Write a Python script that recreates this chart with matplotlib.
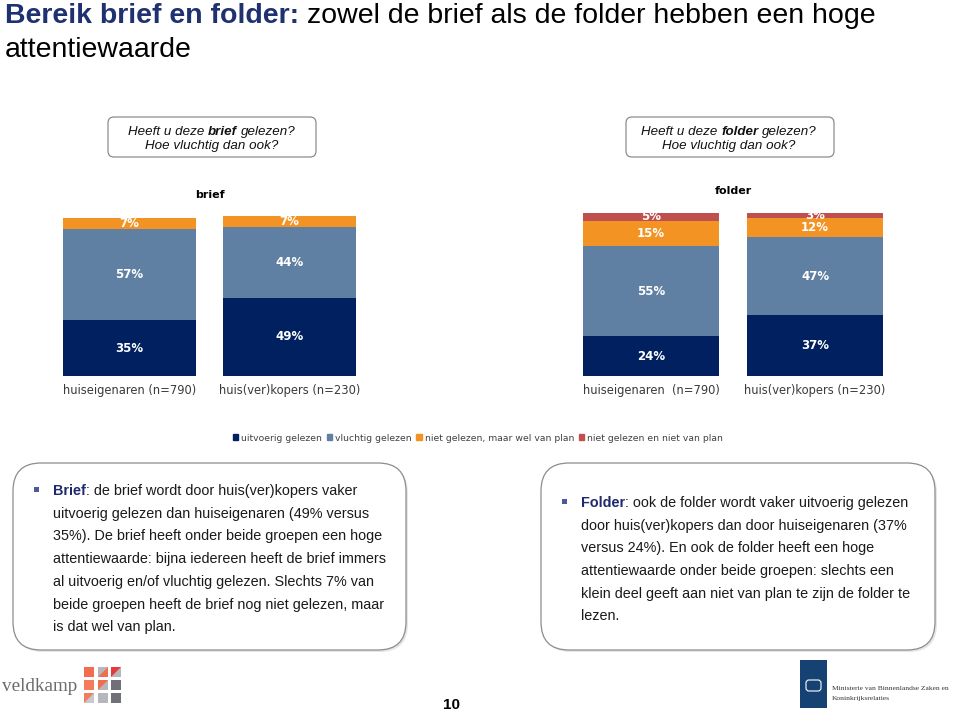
import matplotlib
matplotlib.use("Agg")
import matplotlib.pyplot as plt
from matplotlib.patches import FancyBboxPatch, Rectangle, Polygon, Patch

# data (percentages)
brief_groups = ["huiseigenaren (n=790)", "huis(ver)kopers (n=230)"]
brief_uitvoerig = [35, 49]
brief_vluchtig = [57, 44]
brief_plan = [7, 7]
brief_niet = [0, 0]

folder_groups = ["huiseigenaren  (n=790)", "huis(ver)kopers (n=230)"]
folder_uitvoerig = [24, 37]
folder_vluchtig = [55, 47]
folder_plan = [15, 12]
folder_niet = [5, 3]

categories = ["uitvoerig gelezen", "vluchtig gelezen",
              "niet gelezen, maar wel van plan", "niet gelezen en niet van plan"]
colors = ["#002060", "#5f7fa3", "#f39324", "#c0504d"]

W, H = 960, 714
fig = plt.figure(figsize=(W / 100, H / 100), dpi=100)
fig.patch.set_facecolor("white")

# overlay axes in pixel units (y down) for text boxes and decoration
ov = fig.add_axes([0, 0, 1, 1])
ov.set_xlim(0, W)
ov.set_ylim(H, 0)
ov.axis("off")
renderer = fig.canvas.get_renderer()


def draw_runs(x, y, parts, ha="left", size=10, **common):
    # parts: (text, props); leading space in text means a gap before it
    items = []
    for txt, props in parts:
        t = ov.text(0, y, txt.strip(), fontsize=size, va="baseline", **common, **props)
        w = t.get_window_extent(renderer).width
        items.append((t, w, txt.startswith(" ")))
    space = size * 0.278 * 100 / 72
    total = sum(w for _, w, _ in items) + space * sum(g for _, _, g in items)
    cx = x - total / 2 if ha == "center" else x
    for t, w, g in items:
        if g:
            cx += space
        t.set_x(cx)
        cx += w


# title
draw_runs(5, 23, [("Bereik brief en folder:", dict(fontweight="bold", color="#1f3170")),
                  (" zowel de brief als de folder hebben een hoge", dict(color="black"))],
          size=20.5, family="Liberation Sans")
ov.text(5, 57, "attentiewaarde", fontsize=20.5, family="Liberation Sans", va="baseline")

# question callouts
for cx, x0, word in [(212, 108, "brief"), (729, 626, "folder")]:
    ov.add_patch(FancyBboxPatch((x0, 117), 208, 40, boxstyle="round,pad=0,rounding_size=6",
                                fc="white", ec="#8c8c8c", lw=0.9))
    draw_runs(cx, 135, [("Heeft u deze", {}), (" " + word, dict(fontweight="bold")),
                        (" gelezen?", {})],
              ha="center", size=9.6, family="Liberation Sans", style="italic", color="#111111")
    ov.text(cx, 149, "Hoe vluchtig dan ook?", fontsize=9.6, family="Liberation Sans",
            style="italic", ha="center", va="baseline", color="#111111")


def stacked(ax, groups, series, title, pad):
    x = list(range(len(groups)))
    bottom = [0] * len(groups)
    for vals, c in zip(series, colors):
        ax.bar(x, vals, 0.83, bottom=bottom, color=c, linewidth=0)
        for i, v in enumerate(vals):
            if v > 0:
                ax.text(x[i], bottom[i] + v / 2, f"{v}%", ha="center", va="center",
                        color="white", fontweight="bold", fontsize=8.5)
        bottom = [b + v for b, v in zip(bottom, vals)]
    ax.set_xlim(-0.6, 1.6)
    ax.set_ylim(0, 100)
    ax.set_xticks(x)
    ax.set_xticklabels(groups, fontsize=8.3, color="#3a3a3a")
    ax.tick_params(axis="x", length=0, pad=6)
    ax.set_yticks([])
    for s in ax.spines.values():
        s.set_visible(False)
    ax.set_title(title, fontsize=8, fontweight="bold", pad=pad)


ax1 = fig.add_axes([33.5 / W, 1 - 376 / H, 352 / W, 160 / H])
stacked(ax1, brief_groups, [brief_uitvoerig, brief_vluchtig, brief_plan, brief_niet], "brief", 13)
ax2 = fig.add_axes([552.6 / W, 1 - 376 / H, 360.8 / W, 165 / H])
stacked(ax2, folder_groups, [folder_uitvoerig, folder_vluchtig, folder_plan, folder_niet], "folder", 12)

fig.legend(handles=[Patch(color=c, label=l) for c, l in zip(colors, categories)],
           loc="center", bbox_to_anchor=(478 / W, 1 - 438 / H), ncol=4, frameon=False,
           fontsize=6.7, labelcolor="#404040", handlelength=0.6, handleheight=0.6,
           handletextpad=0.3, columnspacing=0.5)

# text boxes
left_lines = ["uitvoerig gelezen dan huiseigenaren (49% versus",
              "35%). De brief heeft onder beide groepen een hoge",
              "attentiewaarde: bijna iedereen heeft de brief immers",
              "al uitvoerig en/of vluchtig gelezen. Slechts 7% van",
              "beide groepen heeft de brief nog niet gelezen, maar",
              "is dat wel van plan."]
right_lines = ["door huis(ver)kopers dan door huiseigenaren (37%",
               "versus 24%). En ook de folder heeft een hoge",
               "attentiewaarde onder beide groepen: slechts een",
               "klein deel geeft aan niet van plan te zijn de folder te",
               "lezen."]

for x0, x1, tx, bx, y1, head, rest, lines in [
        (13, 406, 53, 36, 495, "Brief", ": de brief wordt door huis(ver)kopers vaker", left_lines),
        (541, 935, 581, 564, 507, "Folder", ": ook de folder wordt vaker uitvoerig gelezen", right_lines)]:
    ov.add_patch(FancyBboxPatch((x0 + 2, 465), x1 - x0, 187, boxstyle="round,pad=0,rounding_size=28",
                                fc="#e6e6e6", ec="none"))
    ov.add_patch(FancyBboxPatch((x0, 463), x1 - x0, 187, boxstyle="round,pad=0,rounding_size=28",
                                fc="white", ec="#8c8c8c", lw=0.9))
    ov.add_patch(Rectangle((bx - 2.5, y1 - 8), 5, 5, fc="#4a5a9a", ec="none"))
    draw_runs(tx, y1, [(head, dict(fontweight="bold", color="#1f2a6e")), (rest, dict(color="#1a1a1a"))],
              size=10.4, family="Liberation Sans")
    for k, line in enumerate(lines):
        ov.text(tx, y1 + 22.7 * (k + 1), line, fontsize=10.4, family="Liberation Sans",
                va="baseline", color="#1a1a1a")

# footer: veldkamp logo
ov.text(2, 691, "veldkamp", fontsize=13.8, family="Liberation Serif", color="#6b6b6b", va="baseline")
sq = [["#f26c4f", "#b5b7bd", "#e8393a"],
      ["#f47c5b", "#f26c4f", "#6f7078"],
      ["#f47c5b", "#b5b7bd", "#6f7078"]]
tri = {(0, 1): "#f26c4f", (0, 2): "#b5b7bd", (1, 1): "#b5b7bd", (2, 0): "#c8c9ce"}
for r in range(3):
    for c in range(3):
        x0, y0 = 84 + 13.5 * c, 667 + 13 * r
        ov.add_patch(Rectangle((x0, y0), 10, 10, fc=sq[r][c], ec="none"))
        if (r, c) in tri:
            ov.add_patch(Polygon([(x0 + 10, y0), (x0 + 10, y0 + 10), (x0, y0 + 10)],
                                 fc=tri[(r, c)], ec="none"))

ov.text(451, 705, "10", fontsize=11, fontweight="bold", family="Liberation Sans",
        ha="center", va="center")

# footer: ministry logo
ov.add_patch(Rectangle((800, 660), 27, 48, fc="#154273", ec="none"))
ov.add_patch(FancyBboxPatch((806, 680), 15, 11, boxstyle="round,pad=0,rounding_size=3",
                            fc="none", ec="white", lw=0.8))
ov.text(832, 690, "Ministerie van Binnenlandse Zaken en", fontsize=5.4,
        family="Liberation Serif", color="#333333", va="baseline")
ov.text(832, 700, "Koninkrijksrelaties", fontsize=5.4,
        family="Liberation Serif", color="#333333", va="baseline")

fig.savefig("out.png", dpi=100)
